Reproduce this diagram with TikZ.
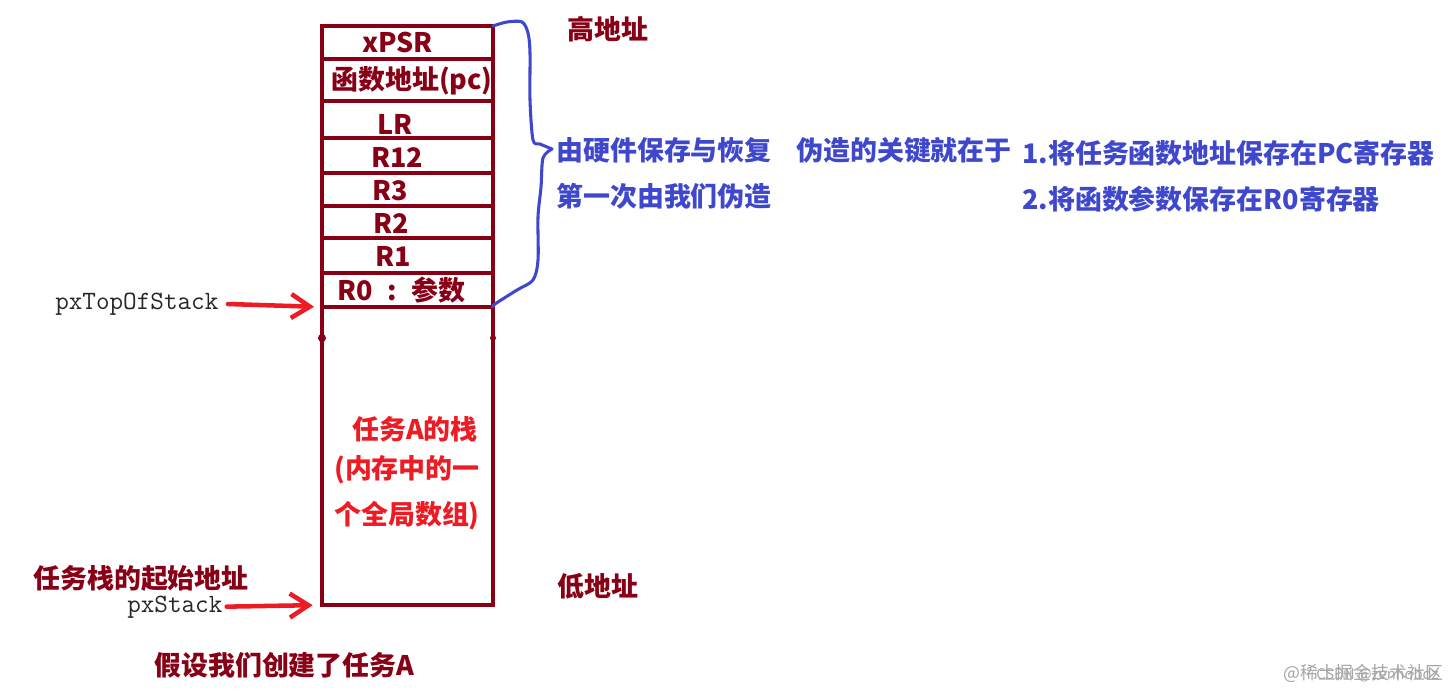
\documentclass[tikz,border=0pt]{standalone}
\usepackage{fontspec}
\setmainfont{Noto Sans CJK SC}
\usetikzlibrary{positioning,arrows.meta}
\definecolor{stackred}{HTML}{880015}
\definecolor{arrowred}{HTML}{ED1C24}
\definecolor{noteblue}{HTML}{3F48CC}
\tikzset{
	stackcell/.style = {draw=stackred, line width=3.6pt, rectangle, inner sep=0pt, outer sep=0pt, minimum width=128.25pt, minimum height=#1*0.75pt},
	word/.style = {font=\fontsize{20.2pt}{24pt}\selectfont\bfseries, inner sep=0pt, anchor=west},
	darkword/.style = {word, text=stackred},
	blueword/.style = {word, text=noteblue},
	redword/.style = {word, text=arrowred},
	code/.style = {font=\fontsize{19.8pt}{24pt}\selectfont\ttfamily, text=black!85, inner sep=0pt, anchor=base west},
	sitemark/.style = {font=\fontsize{13.4pt}{16pt}\selectfont, text=black!35, inner sep=0pt, anchor=west},
	sitename/.style = {sitemark, font=\fontsize{11pt}{14pt}\selectfont},
	to/.style = {-{Straight Barb[length=14pt,width=18pt]}, draw=arrowred, line width=3.4pt, line cap=round}
}
\begin{document}
\begin{tikzpicture}[x=0.75pt, y=-0.75pt]
	\useasboundingbox (0,0) rectangle (1448,690);
	% the stack
	\node (xpsr) [stackcell=33] at (407.5,42.5) {};
	\node (pc) [stackcell=42, below=0pt of xpsr] {};
	\node (lr) [stackcell=37, below=0pt of pc] {};
	\node (rtwelve) [stackcell=35, below=0pt of lr] {};
	\node (rthree) [stackcell=33, below=0pt of rtwelve] {};
	\node (rtwo) [stackcell=32, below=0pt of rthree] {};
	\node (rone) [stackcell=35, below=0pt of rtwo] {};
	\node (rzero) [stackcell=34, below=0pt of rone] {};
	\node (stack) [stackcell=298, below=0pt of rzero] {};
	\fill [stackred] (322,338) circle (4) (493,338) circle (3);
	% register names
	\node (xpsrname) [darkword] at (362,42) {xPSR};
	\node (pcname) [darkword] at (331,81) {函数地址(pc)};
	\node (lrname) [darkword] at (377,124) {LR};
	\node (rtwelvename) [darkword] at (371,157) {R12};
	\node (rthreename) [darkword] at (372,191) {R3};
	\node (rtwoname) [darkword] at (373,223) {R2};
	\node (ronename) [darkword] at (375,256) {R1};
	\node (rzeroname) [darkword] at (337,290) {R0\hspace{11pt}:\hspace{11pt}参数};
	% notes beside the stack
	\node (high) [darkword] at (567,29) {高地址};
	\node (low) [darkword] at (557,586) {低地址};
	\node (saved) [blueword] at (556,150) {由硬件保存与恢复};
	\node (faked) [blueword] at (556,196) {第一次由我们伪造};
	\node (key) [blueword] at (796,150) {伪造的关键就在于};
	\node (keyone) [blueword] at (1022,153) {1.将任务函数地址保存在PC寄存器};
	\node (keytwo) [blueword] at (1022,199) {2.将函数参数保存在R0寄存器};
	\node (taska) [redword] at (352,429) {任务A的栈};
	\node (taskb) [redword] at (334,470) {(内存中的一};
	\node (taskc) [redword] at (334,516) {个全局数组)};
	% pointers
	\node (top) [code] at (55,309) {pxTopOfStack};
	\node (base) [code] at (127,612) {pxStack};
	\node (start) [darkword] at (33,578) {任务栈的起始地址};
	\node (assume) [darkword] at (154,665) {假设我们创建了任务A};
	\draw [to, shorten <=7pt, shorten >=6pt] (top.east) -- (rzero.south west);
	\draw [to, shorten <=3pt, shorten >=7pt] (base.east) -- (stack.south west);
	% hand drawn brace
	\coordinate (tip) at (552,149);
	\draw [noteblue, line width=2.3pt, line cap=round, line join=round]
		plot [smooth, tension=0.5] coordinates {(xpsr.north east) (507,22) (522,22) (528,33) (530,53) (530,100) (533,140) (540,144) (tip)};
	\draw [noteblue, line width=2.3pt, line cap=round, line join=round]
		plot [smooth, tension=0.5] coordinates {(tip) (543,158) (541,187) (538,217) (538,260) (533,280) (517,290) (495,304) (rzero.south east)};
	% watermark
	\node (markone) [sitemark] at (1283,673) {@稀土掘金技术社区};
	\node (marktwo) [sitename] at (1316,675) {CSDN @zenhobdz};
\end{tikzpicture}
\end{document}
